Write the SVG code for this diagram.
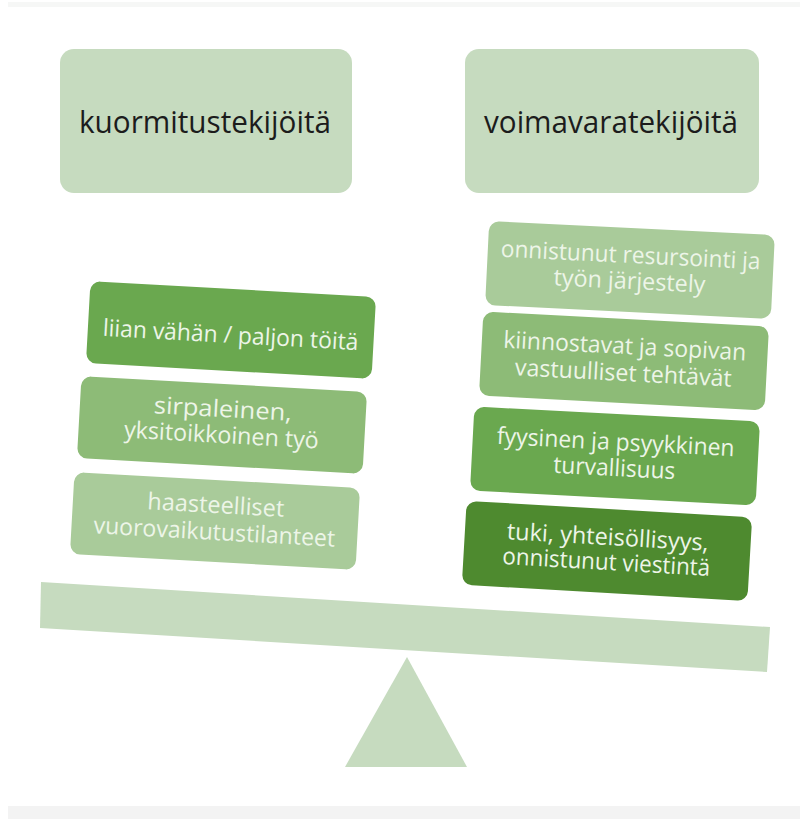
<svg xmlns="http://www.w3.org/2000/svg" width="800" height="819" viewBox="0 0 800 819">
<style>
.hdr{fill:#c6dbbf}
.box{stroke:none}
.b1{fill:#6aa84f}
.b2{fill:#8dbb77}
.b3{fill:#a9cb9a}
.b4{fill:#4e8a2f}
.ht{font-family:"Open Sans","Noto Sans","Liberation Sans",sans-serif;font-size:31px;fill:#1c1c1c;text-anchor:middle}
.bt{font-family:"Open Sans","Noto Sans","Liberation Sans",sans-serif;font-size:23.5px;fill:#edf5e8;text-anchor:middle}
.scale{fill:#c6dbbf}
</style>
<rect x="0" y="0" width="800" height="819" fill="#ffffff"/>
<rect x="8" y="2" width="792" height="5" fill="#f6f7f6"/>
<rect x="8" y="806" width="792" height="13" fill="#f3f3f3"/>

<g id="header-left">
<rect class="hdr" x="60" y="49" width="292" height="144" rx="14"/>
<text class="ht" x="205" y="133" textLength="252" lengthAdjust="spacingAndGlyphs">kuormitustekijöitä</text>
</g>
<g id="header-right">
<rect class="hdr" x="465" y="49" width="294" height="144" rx="14"/>
<text class="ht" x="611" y="133" textLength="254" lengthAdjust="spacingAndGlyphs">voimavaratekijöitä</text>
</g>

<g id="scale">
<polygon class="scale" points="41,582 770,627 767,672 40,628"/>
<polygon class="scale" points="407,657 345,767 467,767"/>
</g>

<g id="left-1" transform="translate(231,330) rotate(3.2)">
<rect class="box b1" x="-143" y="-41" width="286" height="82" rx="10"/>
<text class="bt" x="0" y="13" textLength="256" lengthAdjust="spacingAndGlyphs">liian vähän / paljon töitä</text>
</g>
<g id="left-2" transform="translate(222,425) rotate(3.2)">
<rect class="box b2" x="-143" y="-41" width="286" height="82" rx="10"/>
<text class="bt" x="0" y="-8" textLength="138" lengthAdjust="spacingAndGlyphs">sirpaleinen,</text>
<text class="bt" x="0" y="18" textLength="195" lengthAdjust="spacingAndGlyphs">yksitoikkoinen työ</text>
</g>
<g id="left-3" transform="translate(215,521) rotate(3.2)">
<rect class="box b3" x="-143" y="-41" width="286" height="82" rx="10"/>
<text class="bt" x="0" y="-8" textLength="137" lengthAdjust="spacingAndGlyphs">haasteelliset</text>
<text class="bt" x="0" y="19" textLength="242" lengthAdjust="spacingAndGlyphs">vuorovaikutustilanteet</text>
</g>

<g id="right-1" transform="translate(630,270) rotate(2.8)">
<rect class="box b3" x="-143" y="-42" width="286" height="84" rx="10"/>
<text class="bt" x="0" y="-7" textLength="260" lengthAdjust="spacingAndGlyphs">onnistunut resursointi ja</text>
<text class="bt" x="0" y="19" textLength="152" lengthAdjust="spacingAndGlyphs">työn järjestely</text>
</g>
<g id="right-2" transform="translate(624,361) rotate(3)">
<rect class="box b2" x="-143" y="-42" width="286" height="84" rx="10"/>
<text class="bt" x="0" y="-7" textLength="243" lengthAdjust="spacingAndGlyphs">kiinnostavat ja sopivan</text>
<text class="bt" x="0" y="20" textLength="217" lengthAdjust="spacingAndGlyphs">vastuulliset tehtävät</text>
</g>
<g id="right-3" transform="translate(615,456) rotate(3)">
<rect class="box b1" x="-143" y="-42" width="286" height="84" rx="10"/>
<text class="bt" x="0" y="-6" textLength="238" lengthAdjust="spacingAndGlyphs">fyysinen ja psyykkinen</text>
<text class="bt" x="0" y="20" textLength="122" lengthAdjust="spacingAndGlyphs">turvallisuus</text>
</g>
<g id="right-4" transform="translate(607,551) rotate(3.3)">
<rect class="box b4" x="-143" y="-42" width="286" height="84" rx="10"/>
<text class="bt" x="0" y="-6" textLength="202" lengthAdjust="spacingAndGlyphs">tuki, yhteisöllisyys,</text>
<text class="bt" x="0" y="19" textLength="208" lengthAdjust="spacingAndGlyphs">onnistunut viestintä</text>
</g>
</svg>
